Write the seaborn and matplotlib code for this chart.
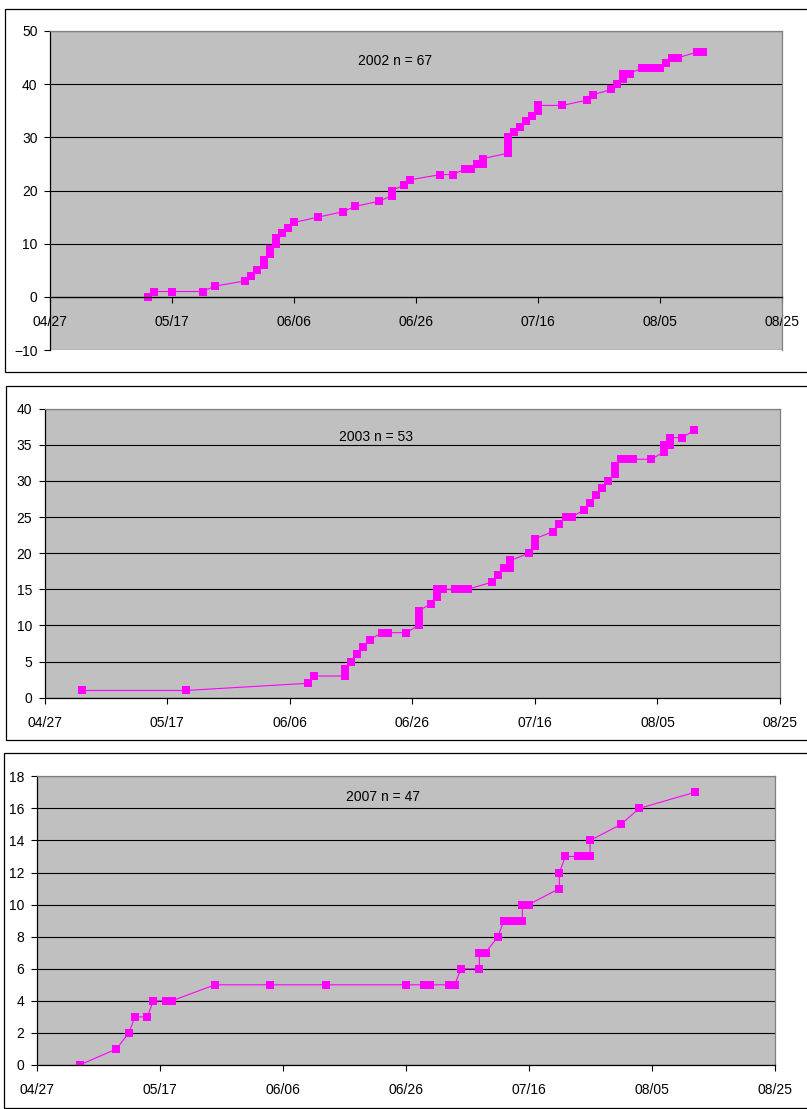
import matplotlib
matplotlib.use("Agg")
import matplotlib.pyplot as plt
import matplotlib.dates as mdates
from matplotlib.patches import Rectangle
import pandas as pd
import seaborn as sns

# cumulative counts
dates_2002 = ["05/13", "05/14", "05/17", "05/22", "05/24", "05/29", "05/30", "05/31",
              "06/01", "06/01", "06/02", "06/02", "06/03", "06/03", "06/04", "06/05",
              "06/06", "06/10", "06/14", "06/16", "06/20", "06/22", "06/22", "06/24",
              "06/25", "06/30", "07/02", "07/04", "07/05", "07/06", "07/07", "07/07",
              "07/11", "07/11", "07/11", "07/11", "07/12", "07/13", "07/14", "07/15",
              "07/16", "07/16", "07/20", "07/24", "07/25", "07/28", "07/29", "07/30",
              "07/30", "07/31", "08/02", "08/03", "08/04", "08/05", "08/06", "08/07",
              "08/08", "08/11", "08/12"]
counts_2002 = [0, 1, 1, 1, 2, 3, 4, 5,
               6, 7, 8, 9, 10, 11, 12, 13,
               14, 15, 16, 17, 18, 19, 20, 21,
               22, 23, 23, 24, 24, 25, 25, 26,
               27, 28, 29, 30, 31, 32, 33, 34,
               35, 36, 36, 37, 38, 39, 40, 41,
               42, 42, 43, 43, 43, 43, 44, 45,
               45, 46, 46]

dates_2003 = ["05/03", "05/20", "06/09", "06/10", "06/15", "06/15", "06/16", "06/17",
              "06/18", "06/19", "06/21", "06/22", "06/25", "06/27", "06/27", "06/27",
              "06/29", "06/30", "06/30", "07/01", "07/03", "07/04", "07/05", "07/09",
              "07/10", "07/11", "07/12", "07/12", "07/15", "07/16", "07/16", "07/19",
              "07/20", "07/21", "07/22", "07/24", "07/25", "07/26", "07/27", "07/28",
              "07/29", "07/29", "07/30", "07/31", "08/01", "08/04", "08/06", "08/06",
              "08/07", "08/07", "08/09", "08/11"]
counts_2003 = [1, 1, 2, 3, 3, 4, 5, 6,
               7, 8, 9, 9, 9, 10, 11, 12,
               13, 14, 15, 15, 15, 15, 15, 16,
               17, 18, 18, 19, 20, 21, 22, 23,
               24, 25, 25, 26, 27, 28, 29, 30,
               31, 32, 33, 33, 33, 33, 34, 35,
               35, 36, 36, 37]

dates_2007 = ["05/04", "05/10", "05/12", "05/13", "05/15", "05/16", "05/18", "05/19",
              "05/26", "06/04", "06/13", "06/26", "06/29", "06/30", "07/03", "07/04",
              "07/05", "07/08", "07/08", "07/09", "07/11", "07/12", "07/13", "07/14",
              "07/15", "07/15", "07/16", "07/21", "07/21", "07/22", "07/24", "07/25",
              "07/26", "07/26", "07/31", "08/03", "08/12"]
counts_2007 = [0, 1, 2, 3, 3, 4, 4, 4,
               5, 5, 5, 5, 5, 5, 5, 5,
               6, 6, 7, 7, 8, 9, 9, 9,
               9, 10, 10, 11, 12, 13, 13, 13,
               13, 14, 15, 16, 17]

years = [2002, 2003, 2007]
panel_dates = [dates_2002, dates_2003, dates_2007]
panel_counts = [counts_2002, counts_2003, counts_2007]
titles = ["2002 n = 67", "2003 n = 53", "2007 n = 47"]
y_ranges = [(-10, 50), (0, 40), (0, 18)]
y_steps = [10, 5, 2]

plt.rcParams['font.family'] = ['Liberation Sans', 'DejaVu Sans']
plt.rcParams['font.size'] = 10

W, H = 807, 1109
fig = plt.figure(figsize=(W / 100, H / 100), dpi=100)

# pixel boxes: outer chart frame and plot area (left, top, right, bottom)
frames = [(5, 9, 808, 372), (6, 386, 808, 740), (4, 753, 808, 1108)]
areas = [(50, 31, 782, 350), (44.8, 408.7, 780, 697.7), (36.5, 776.3, 774.6, 1065)]
title_pos = [(0.471, 0.906), (0.451, 0.903), (0.469, 0.929)]


def fig_rect(box):
    l, t, r, b = box
    return [l / W, 1 - b / H, (r - l) / W, (b - t) / H]


for i, year in enumerate(years):
    fx, fy, fw, fh = fig_rect(frames[i])
    fig.patches.append(Rectangle((fx, fy), fw, fh, transform=fig.transFigure,
                                 fill=False, ec='black', lw=0.9))
    ax = fig.add_axes(fig_rect(areas[i]))

    df = pd.DataFrame({
        'date': pd.to_datetime([f"{year}/{d}" for d in panel_dates[i]], format="%Y/%m/%d"),
        'count': panel_counts[i],
    })
    sns.lineplot(data=df, x='date', y='count', estimator=None, sort=False,
                 color='#FF00FF', linewidth=0.8, marker='s', markersize=5.2,
                 markeredgewidth=0, ax=ax)

    ax.set_facecolor('#C0C0C0')
    ticks = pd.date_range(pd.Timestamp(year, 4, 27), periods=7, freq='20D')
    ax.set_xlim(ticks[0], ticks[-1])
    ax.set_xticks(ticks)
    ax.xaxis.set_major_formatter(mdates.DateFormatter('%m/%d'))
    lo, hi = y_ranges[i]
    ax.set_ylim(lo, hi)
    ax.set_yticks(range(lo, hi + 1, y_steps[i]))
    ax.yaxis.grid(True, color='black', lw=0.8)
    ax.xaxis.grid(False)
    ax.set_axisbelow(True)

    ax.spines['bottom'].set_position(('data', 0))
    ax.spines['bottom'].set_color('black')
    ax.spines['left'].set_color('black')
    for s in ['top', 'right']:
        ax.spines[s].set_color('#808080')
    for s in ax.spines.values():
        s.set_linewidth(0.9)

    ax.tick_params(axis='x', direction='out', length=4, width=0.8, pad=9, colors='black')
    ax.tick_params(axis='y', direction='out', length=4, width=0.8, pad=5, colors='black')
    ax.set_xlabel('')
    ax.set_ylabel('')

    ax.text(title_pos[i][0], title_pos[i][1], titles[i], transform=ax.transAxes,
            ha='center', va='center', fontsize=10)

fig.savefig('out.png', dpi=100)
